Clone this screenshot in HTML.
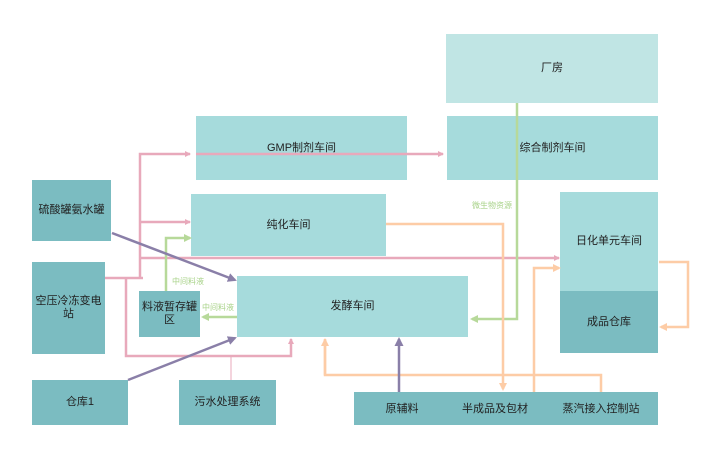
<!DOCTYPE html>
<html><head><meta charset="utf-8"><style>
body{margin:0;width:715px;height:460px;background:#fff;overflow:hidden;position:relative;font-family:"Liberation Sans","Noto Sans CJK SC",sans-serif;}
.b{position:absolute;display:flex;align-items:center;justify-content:center;text-align:center;font-size:11px;color:#222;line-height:13px;}
.l{background:#a6dbdc}.d{background:#7bbcc1}.p{background:#c0e5e4}
svg{position:absolute;left:0;top:0}
.t{position:absolute;font-size:8px;color:#a9d38a;}
</style></head><body>
<div class="b p" style="left:446px;top:34px;width:212px;height:69px">厂房</div>
<div class="b l" style="left:196px;top:116px;width:211px;height:64px">GMP制剂车间</div>
<div class="b l" style="left:447px;top:116px;width:211px;height:64px">综合制剂车间</div>
<div class="b d" style="left:32px;top:180px;width:79px;height:61px">硫酸罐氨水罐</div>
<div class="b d" style="left:32px;top:262px;width:73px;height:92px">空压冷冻变电<br>站</div>
<div class="b l" style="left:191px;top:194px;width:195px;height:62px">纯化车间</div>
<div class="b d" style="left:139px;top:291px;width:61px;height:46px">料液暂存罐<br>区</div>
<div class="b l" style="left:237px;top:276px;width:231px;height:61px">发酵车间</div>
<div class="b d" style="left:32px;top:380px;width:96px;height:45px">仓库1</div>
<div class="b d" style="left:179px;top:380px;width:97px;height:45px">污水处理系统</div>
<div class="b d" style="left:354px;top:392px;width:304px;height:33px"></div>
<div class="b" style="left:370px;top:402px;width:64px;height:14px">原辅料</div>
<div class="b" style="left:455px;top:402px;width:80px;height:14px">半成品及包材</div>
<div class="b" style="left:555px;top:402px;width:92px;height:14px">蒸汽接入控制站</div>
<div class="b l" style="left:560px;top:192px;width:98px;height:99px">日化单元车间</div>
<div class="b d" style="left:560px;top:291px;width:98px;height:62px">成品仓库</div>
<div class="t" style="left:172px;top:276px">中间料液</div>
<div class="t" style="left:202px;top:302px">中间料液</div>
<div class="t" style="left:472px;top:200px">微生物资源</div>
<svg width="715" height="460">
<defs>
<marker id="pk" markerWidth="6" markerHeight="6" refX="5" refY="3" orient="auto" markerUnits="userSpaceOnUse"><path d="M0,0L6,3L0,6z" fill="#e8a9bb"/></marker>
<marker id="gr" markerWidth="8" markerHeight="8" refX="6" refY="4" orient="auto" markerUnits="userSpaceOnUse"><path d="M0,0L8,4L0,8z" fill="#b7d99a"/></marker>
<marker id="or" markerWidth="8" markerHeight="8" refX="6" refY="4" orient="auto" markerUnits="userSpaceOnUse"><path d="M0,0L8,4L0,8z" fill="#fdcca6"/></marker>
<marker id="pu" markerWidth="9" markerHeight="9" refX="7" refY="4.5" orient="auto" markerUnits="userSpaceOnUse"><path d="M0,0L9,4.5L0,9z" fill="#8a7fa8"/></marker>
</defs>
<g fill="none" stroke="#e8a9bb" stroke-width="2.5">
<path d="M140,278V154H190" marker-end="url(#pk)"/>
<path d="M196,154H443" marker-end="url(#pk)"/>
<path d="M140,222H190" marker-end="url(#pk)"/>
<path d="M140,258H559" marker-end="url(#pk)"/>
<path d="M105,278H143"/>
<path d="M126,278V356H291V339" marker-end="url(#pk)"/>
<path d="M231,356V380" stroke-width="1"/>
</g>
<g fill="none" stroke="#b7d99a" stroke-width="2.5">
<path d="M166,291V238H190" marker-end="url(#gr)"/>
<path d="M237,317H203" marker-end="url(#gr)"/>
<path d="M517,103V319H472" marker-end="url(#gr)"/>
</g>
<g fill="none" stroke="#fdcca6" stroke-width="2.5">
<path d="M325,339V375H601V392" />
<path d="M325,375V340" marker-end="url(#or)"/>
<path d="M386,224H503V389" marker-end="url(#or)"/>
<path d="M534,392V268H559" marker-end="url(#or)"/>
<path d="M659,262H688V327H661" marker-end="url(#or)"/>
</g>
<g fill="none" stroke="#8a7fa8" stroke-width="2.5">
<path d="M112,233L235,280" marker-end="url(#pu)"/>
<path d="M128,380L235,338" marker-end="url(#pu)"/>
<path d="M399,392V339" marker-end="url(#pu)"/>
</g>
</svg>
</body></html>
